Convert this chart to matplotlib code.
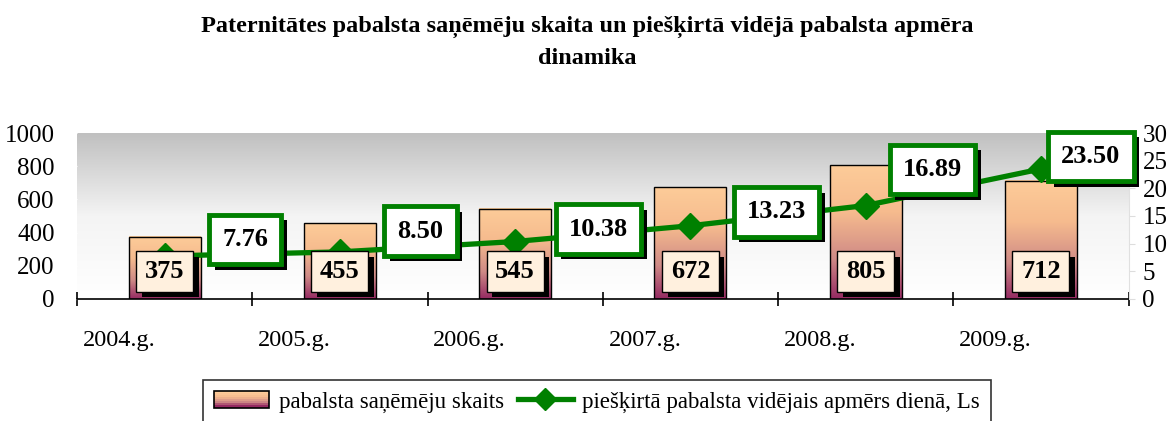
import matplotlib
matplotlib.use("Agg")
import matplotlib.pyplot as plt
import matplotlib.patheffects as pe
import numpy as np
from matplotlib.colors import LinearSegmentedColormap
from matplotlib.lines import Line2D
from matplotlib.patches import Rectangle
from matplotlib.legend_handler import HandlerBase

years = ["2004.g.", "2005.g.", "2006.g.", "2007.g.", "2008.g.", "2009.g."]
recipients = [375, 455, 545, 672, 805, 712]
avg_daily = [7.76, 8.50, 10.38, 13.23, 16.89, 23.50]
avg_labels = ["7.76", "8.50", "10.38", "13.23", "16.89", "23.50"]

TITLE = "Paternitātes pabalsta saņēmēju skaita un piešķirtā vidējā pabalsta apmēra\ndinamika"
BAR_NAME = "pabalsta saņēmēju skaits"
LINE_NAME = "piešķirtā pabalsta vidējais apmērs dienā, Ls"

GREEN = "#008000"
bar_cmap = LinearSegmentedColormap.from_list(
    "bar", [(0.0, "#952a62"), (0.3, "#cf8a86"), (0.65, "#f6bb8e"), (1.0, "#fdcc99")])
bg_cmap = LinearSegmentedColormap.from_list("bg", ["#ffffff", "#f4f4f4", "#c0c0c0"])

# label offsets (points) for the line value boxes
line_off = [(58, 12), (58, 15), (60, 9), (62, 10), (48, 26), (36, 9)]

plt.rcParams["font.family"] = ["Liberation Serif", "DejaVu Serif"]
shadow = [pe.withSimplePatchShadow(offset=(4, -4), shadow_rgbFace="black", alpha=1.0)]


class GradientHandler(HandlerBase):
    def create_artists(self, legend, orig_handle, xd, yd, width, height, fontsize, trans):
        arts = []
        n = 8
        for k in range(n):
            arts.append(Rectangle((xd, yd + height * k / n), width, height / n,
                                  facecolor=bar_cmap(k / (n - 1)), edgecolor="none",
                                  transform=trans))
        arts.append(Rectangle((xd, yd), width, height, facecolor="none",
                              edgecolor="black", lw=1.2, transform=trans))
        return arts


fig = plt.figure(figsize=(11.75, 4.21), dpi=100)
ax = fig.add_axes([0.0655, 0.29, 0.895, 0.394])
ax2 = ax.twinx()
ax2.patch.set_visible(False)

x = np.arange(len(years))
ax.set_xlim(-0.5, len(years) - 0.5)
ax.set_ylim(0, 1000)
ax2.set_ylim(0, 30)

# background gradient
grad = np.linspace(0, 1, 256).reshape(-1, 1)
ax.imshow(grad, cmap=bg_cmap, origin="lower", aspect="auto",
          extent=[-0.5, len(years) - 0.5, 0, 1000], zorder=0)

w = 0.41
for xi, v in zip(x, recipients):
    ax.imshow(grad, cmap=bar_cmap, origin="lower", aspect="auto",
              extent=[xi - w / 2, xi + w / 2, 0, v], zorder=1)
    ax.add_patch(Rectangle((xi - w / 2, 0), w, v, facecolor="none",
                           edgecolor="black", lw=1.0, zorder=2))

ax2.plot(x, avg_daily, color=GREEN, lw=3.8, marker="D", markersize=13, zorder=3)

# bar value boxes sit above the line
for xi, v in zip(x, recipients):
    t = ax2.annotate(str(v), (xi, 165), xycoords=ax.transData,
                     ha="center", va="center", fontsize=19, fontweight="bold",
                     bbox=dict(boxstyle="square,pad=0.33", fc="#fff0de", ec="black", lw=1.0),
                     zorder=5)
    t.get_bbox_patch().set_path_effects(shadow)

for xi, v, lab, (ox, oy) in zip(x, avg_daily, avg_labels, line_off):
    t = ax2.annotate(lab, (xi, v), xytext=(ox, oy), textcoords="offset points",
                     ha="center", va="center", fontsize=19, fontweight="bold",
                     bbox=dict(boxstyle="square,pad=0.5", fc="white", ec=GREEN, lw=3.5),
                     zorder=6)
    t.get_bbox_patch().set_path_effects(shadow)

ax.set_yticks(range(0, 1001, 200))
ax2.set_yticks(range(0, 31, 5))
ax.tick_params(axis="y", labelsize=18, color="white", length=4, pad=12)
ax2.tick_params(axis="y", labelsize=18, color="#dddddd", length=4, pad=6)
ax.set_xticks(np.arange(-0.5, len(years), 1.0))
ax.set_xticklabels([])
ax.tick_params(axis="x", direction="inout", length=10, width=1.2)
for xi, yr in zip(x, years):
    ax.text(xi - 0.26, -0.25, yr, transform=ax.get_xaxis_transform(),
            ha="center", va="center", fontsize=17.5)

for a in (ax, ax2):
    for s in ("top", "left", "right"):
        a.spines[s].set_visible(False)
    a.spines["bottom"].set_color("black")
    a.spines["bottom"].set_linewidth(1.2)
ax2.spines["right"].set_visible(True)
ax2.spines["right"].set_color("#e0e0e0")
ax2.spines["bottom"].set_visible(False)

fig.text(0.5, 0.962, TITLE, ha="center", va="top", fontsize=17.5,
         fontweight="bold", linespacing=1.6)

handles = [Rectangle((0, 0), 1, 1),
           Line2D([], [], color=GREEN, lw=3.8, marker="D", markersize=11)]
leg = fig.legend(handles, [BAR_NAME, LINE_NAME], loc="upper left",
                 bbox_to_anchor=(203 / 1175, 1 - 380 / 421), borderaxespad=0,
                 ncol=2, fontsize=16.5, frameon=True, fancybox=False,
                 edgecolor="black", borderpad=0.5, handlelength=2.4,
                 handletextpad=0.4, columnspacing=0.6,
                 handler_map={Rectangle: GradientHandler()})
leg.get_frame().set_linewidth(1.2)

fig.savefig("out.png", dpi=100)
